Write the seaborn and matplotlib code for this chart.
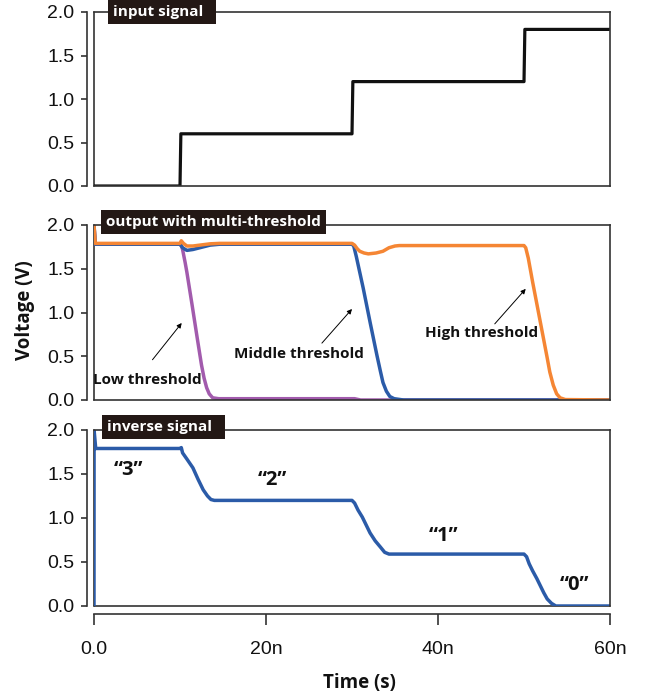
import matplotlib
matplotlib.use("Agg")
import matplotlib.pyplot as plt
import seaborn as sns
import pandas as pd

# ---------------- data (time in ns, voltage in V) ----------------
input_t = [0, 10.0, 10.1, 30.0, 30.1, 50.0, 50.1, 60]
input_v = [0.0, 0.0, 0.6, 0.6, 1.2, 1.2, 1.8, 1.8]

low_t = [0, 0.15, 10.0, 10.15, 10.3, 10.6, 10.8, 11.4, 12.0, 12.5, 12.8, 13.1, 13.4,
         13.8, 14.5, 30.3, 31.0, 60]
low_v = [2.0, 1.78, 1.78, 1.77, 1.72, 1.57, 1.46, 1.09, 0.71, 0.40, 0.25, 0.14, 0.07,
         0.025, 0.015, 0.015, 0.0, 0.0]

mid_t = [0, 0.15, 10.0, 10.3, 10.8, 11.5, 12.3, 13.5, 14.6, 30.0, 30.2, 30.5, 31.3,
         32.1, 32.9, 33.3, 33.6, 34.0, 34.4, 34.9, 36.0, 60]
mid_v = [2.0, 1.78, 1.78, 1.74, 1.71, 1.72, 1.74, 1.77, 1.78, 1.78, 1.76, 1.64, 1.28,
         0.89, 0.51, 0.33, 0.20, 0.10, 0.04, 0.015, 0.0, 0.0]

high_t = [0, 0.15, 10.0, 10.15, 10.4, 10.8, 11.5, 12.3, 13.5, 14.6,
          30.0, 30.3, 30.6, 30.9, 31.4, 31.9, 32.8, 33.6, 34.3, 35.0, 35.5,
          50.0, 50.2, 50.5, 51.0, 51.9, 52.7, 53.0, 53.4, 53.8, 54.2, 54.8, 60]
high_v = [2.0, 1.79, 1.79, 1.82, 1.79, 1.76, 1.76, 1.77, 1.785, 1.79,
          1.79, 1.77, 1.73, 1.70, 1.68, 1.67, 1.68, 1.70, 1.74, 1.76, 1.765,
          1.765, 1.74, 1.62, 1.35, 0.89, 0.48, 0.32, 0.17, 0.07, 0.025, 0.005, 0.0]

inv_t = [0, 0.01, 0.2, 10.0, 10.15, 10.3, 10.8, 11.5, 12.1, 12.7, 13.2, 13.6, 14.0,
         30.0, 30.3, 30.7, 31.2, 32.1, 32.7, 33.3, 33.8, 34.3,
         50.0, 50.3, 50.6, 51.0, 51.5, 51.9, 52.3, 52.7, 53.2, 53.7, 60]
inv_v = [0.0, 2.0, 1.79, 1.79, 1.80, 1.74, 1.67, 1.57, 1.44, 1.32, 1.25, 1.21, 1.20,
         1.20, 1.17, 1.09, 1.01, 0.83, 0.74, 0.67, 0.61, 0.59,
         0.59, 0.56, 0.48, 0.40, 0.31, 0.23, 0.15, 0.08, 0.03, 0.0, 0.0]

panel_titles = ["input signal  ", "output with multi-threshold", "inverse signal  "]
threshold_labels = ["Low threshold", "Middle threshold", "High threshold"]
level_labels = ["\u201c3\u201d", "\u201c2\u201d", "\u201c1\u201d", "\u201c0\u201d"]
x_ticks = [0, 20, 40, 60]
x_ticklabels = ["0.0", "20n", "40n", "60n"]
y_ticks = [0.0, 0.5, 1.0, 1.5, 2.0]

# ---------------- style ----------------
sns.set_theme(style="ticks")
plt.rcParams["font.family"] = ["Liberation Sans", "DejaVu Sans"]
BOLD = ["Open Sans", "DejaVu Sans"]

BLUE = "#2b5ba8"
ORANGE = "#f58634"
PURPLE = "#a25bad"
BLACK = "#111111"
FRAME = "#333333"
LABELBG = "#231815"

fig = plt.figure(figsize=(6.47, 6.97), dpi=100)
left, width = 94 / 647, 516 / 647
H = 697
boxes = [(12, 186), (225, 400), (430, 606)]
axes = []
for top, bot in boxes:
    ax = fig.add_axes([left, 1 - bot / H, width, (bot - top) / H])
    axes.append(ax)

def df(t, v, name):
    return pd.DataFrame({"t": t, "v": v, "s": name})

lw_c = 2.5
kw = dict(x="t", y="v", estimator=None, sort=False, legend=False)
sns.lineplot(data=df(input_t, input_v, "in"), ax=axes[0], color=BLACK, lw=2.3, **kw)
sns.lineplot(data=df(low_t, low_v, "low"), ax=axes[1], color=PURPLE, lw=lw_c, **kw)
sns.lineplot(data=df(mid_t, mid_v, "mid"), ax=axes[1], color=BLUE, lw=lw_c, **kw)
sns.lineplot(data=df(high_t, high_v, "high"), ax=axes[1], color=ORANGE, lw=lw_c, **kw)
sns.lineplot(data=df(inv_t, inv_v, "inv"), ax=axes[2], color=BLUE, lw=lw_c, **kw)

for i, ax in enumerate(axes):
    ax.set_xlim(0, 60)
    ax.set_ylim(0, 2.0)
    ax.set_xlabel("")
    ax.set_ylabel("")
    for s in ax.spines.values():
        s.set_visible(True)
        s.set_color(FRAME)
        s.set_linewidth(1.2)
    ax.spines["left"].set_position(("outward", 5))
    # box edge at the data-area left side (since left spine is offset)
    ax.plot([0, 0], [0, 2.0], color=FRAME, lw=1.2, clip_on=False, zorder=0.5)
    ax.set_yticks(y_ticks)
    ax.set_yticklabels([f"{v:.1f}" for v in y_ticks])
    ax.tick_params(axis="y", direction="out", length=4, width=1.2, color=FRAME,
                   labelsize=14, pad=5, labelcolor="#111111")
    if i < 2:
        ax.set_xticks([])
    else:
        ax.spines["bottom"].set_position(("outward", 6))
        ax.plot([0, 60], [0, 0], color=FRAME, lw=1.2, clip_on=False, zorder=0.5)
        ax.set_xticks(x_ticks)
        ax.set_xticklabels(x_ticklabels)
        ax.tick_params(axis="x", direction="out", length=8, width=1.2, color=FRAME,
                       labelsize=14, pad=11, labelcolor="#111111")
    ax.patch.set_alpha(0)

# panel title boxes
title_x = [0.036, 0.024, 0.025]
title_y = [1.0, 1.015, 1.017]
for ax, txt, tx, ty in zip(axes, panel_titles, title_x, title_y):
    ax.text(tx, ty, txt, transform=ax.transAxes, ha="left", va="center",
            color="white", fontsize=11, fontweight="bold", family=BOLD,
            bbox=dict(boxstyle="square,pad=0.32", fc=LABELBG, ec="none"),
            zorder=10, clip_on=False)

# threshold annotations (middle panel)
ann_text = [(6.2, 0.23), (23.8, 0.53), (45.1, 0.77)]
ann_tail = [(6.8, 0.46), (26.5, 0.65), (46.6, 0.87)]
ann_head = [(10.2, 0.88), (30.0, 1.04), (50.2, 1.27)]
for lab, tp, tl, hd in zip(threshold_labels, ann_text, ann_tail, ann_head):
    axes[1].annotate("", xy=hd, xytext=tl,
                     arrowprops=dict(arrowstyle="-|>", color="black", lw=0.7,
                                     mutation_scale=7, shrinkA=0, shrinkB=0))
    axes[1].text(tp[0], tp[1], lab, ha="center", va="center", fontsize=11,
                 fontweight="bold", family=BOLD, color="#111111")

# level labels (bottom panel)
lvl_pos = [(4.0, 1.54), (20.8, 1.43), (40.6, 0.79), (55.9, 0.24)]
for lab, (x, y) in zip(level_labels, lvl_pos):
    axes[2].text(x, y, lab, ha="center", va="center", fontsize=14.5,
                 fontweight="bold", family=BOLD, color="#111111")

fig.text(25 / 647, 1 - 310 / H, "Voltage (V)", rotation=90, ha="center", va="center",
         fontsize=13.5, fontweight="bold", family=BOLD, color="#111111")
fig.text(359 / 647, 1 - 683 / H, "Time (s)", ha="center", va="center",
         fontsize=13.5, fontweight="bold", family=BOLD, color="#111111")

fig.savefig("out.png", dpi=100)
